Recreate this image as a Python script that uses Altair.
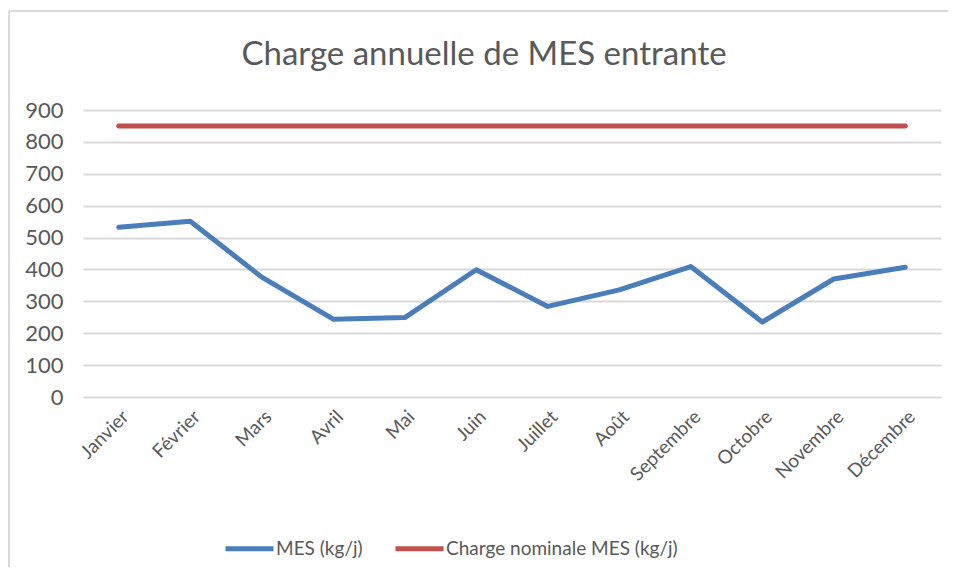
import altair as alt
import pandas as pd

mois = ["Janvier", "Février", "Mars", "Avril", "Mai", "Juin", "Juillet",
        "Août", "Septembre", "Octobre", "Novembre", "Décembre"]
mes = [532, 551, 376, 244, 249, 399, 284, 336, 409, 235, 370, 407]
nominale = [850] * 12
series = ["MES (kg/j)", "Charge nominale MES (kg/j)"]
colors = ["#4A7EBB", "#C0504D"]
titre = "Charge annuelle de MES entrante"

rows = []
for m, v in zip(mois, mes):
    rows.append({"Mois": m, "Valeur": v, "Série": series[0]})
for m, v in zip(mois, nominale):
    rows.append({"Mois": m, "Valeur": v, "Série": series[1]})
df = pd.DataFrame(rows)

FONT = "Lato"
TXT = "#595959"

lines = alt.Chart(df).mark_line(strokeWidth=5, strokeCap="round", strokeJoin="round").encode(
    x=alt.X("Mois:N", sort=mois, title=None,
            axis=alt.Axis(labelAngle=-45, domain=False, ticks=False, grid=False,
                          labelFontSize=19, labelFont=FONT, labelColor=TXT, labelPadding=10)),
    y=alt.Y("Valeur:Q", title=None, scale=alt.Scale(domain=[0, 900]),
            axis=alt.Axis(values=list(range(0, 1000, 100)), domain=False, ticks=False,
                          grid=True, gridColor="#D9D9D9", gridWidth=2,
                          labelFontSize=22, labelFont=FONT, labelColor=TXT, labelPadding=20)),
    color=alt.Color("Série:N", sort=series,
                    scale=alt.Scale(domain=series, range=colors),
                    legend=alt.Legend(title=None, orient="none", direction="horizontal",
                                      legendX=140, legendY=412,
                                      symbolType="stroke", symbolSize=2304, symbolStrokeWidth=5,
                                      labelFontSize=19, labelFont=FONT, labelColor=TXT,
                                      labelLimit=400, labelOffset=0, columnPadding=22)),
)

one = pd.DataFrame({"t": [titre]})
border = alt.Chart(one).mark_rule(color="#D9D9D9", strokeWidth=2).encode(
    x=alt.value(-74), y=alt.value(-99), y2=alt.value(480)
)
border_top = alt.Chart(one).mark_rule(color="#D9D9D9", strokeWidth=2).encode(
    x=alt.value(-74), x2=alt.value(880), y=alt.value(-99)
)
title = alt.Chart(one).mark_text(font=FONT, fontSize=33, color=TXT, align="center",
                                 baseline="alphabetic").encode(
    text="t:N", x=alt.value(401), y=alt.value(-45)
)

chart = alt.layer(border, border_top, title, lines).properties(
    width=858, height=287,
    autosize=alt.AutoSizeParams(type="none"),
    padding={"left": 75, "top": 102, "right": 7, "bottom": 170},
).configure_view(stroke=None)

chart.save("out.html", embed_options={"renderer": "svg", "actions": False})
